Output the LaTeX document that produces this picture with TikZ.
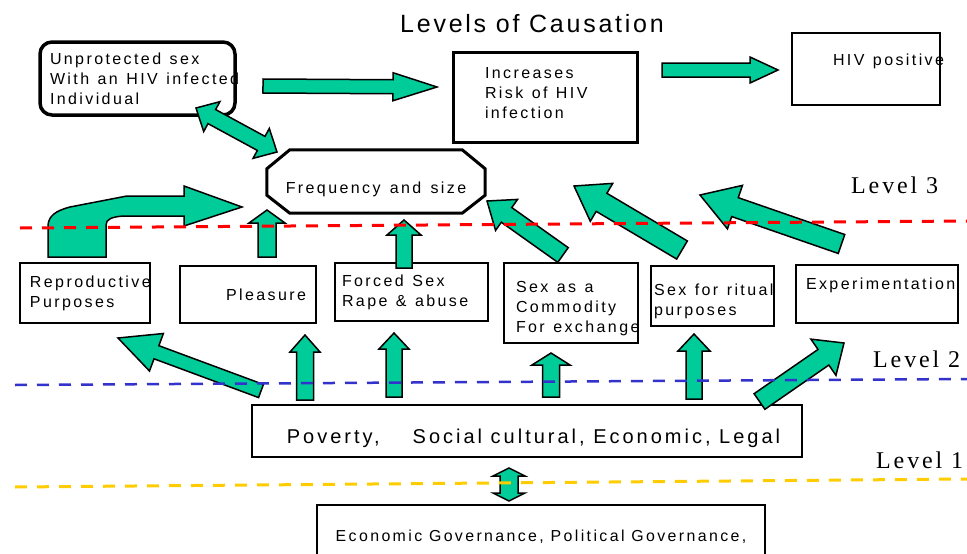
\documentclass[tikz,border=0pt]{standalone}
\usepackage{fontspec}
\setmainfont{Liberation Sans}[LetterSpace=15, WordSpace=1.35]
\newfontfamily\basefont{Liberation Sans}[LetterSpace=15]
\newfontfamily\levelfont{Liberation Serif}[LetterSpace=12]
\usetikzlibrary{calc}

\definecolor{causegreen}{HTML}{00CC99}
\definecolor{level3red}{HTML}{FF0000}
\definecolor{level2blue}{HTML}{3333CC}
\definecolor{level1gold}{HTML}{FFCC00}

% block arrow: tail, tip, half shaft, half head, head length
\newcommand{\blockarrow}[5]{%
  \coordinate (hb) at ($(#2)!#5pt!(#1)$);
  \draw[arrowbody] ($(#1)!#3pt!90:(#2)$) -- ($(hb)!#3pt!-90:(#1)$)
    -- ($(hb)!#4pt!-90:(#1)$) -- (#2) -- ($(hb)!#4pt!90:(#1)$)
    -- ($(hb)!#3pt!90:(#1)$) -- ($(#1)!#3pt!-90:(#2)$) -- cycle;}
% same with a head at both ends
\newcommand{\blockdarrow}[5]{%
  \coordinate (hb1) at ($(#1)!#5pt!(#2)$);
  \coordinate (hb2) at ($(#2)!#5pt!(#1)$);
  \draw[arrowbody] (#1) -- ($(hb1)!#4pt!90:(#2)$) -- ($(hb1)!#3pt!90:(#2)$)
    -- ($(hb2)!#3pt!-90:(#1)$) -- ($(hb2)!#4pt!-90:(#1)$) -- (#2)
    -- ($(hb2)!#4pt!90:(#1)$) -- ($(hb2)!#3pt!90:(#1)$)
    -- ($(hb1)!#3pt!-90:(#2)$) -- ($(hb1)!#4pt!-90:(#2)$) -- cycle;}

\begin{document}
\begin{tikzpicture}[x=1pt, y=-1pt,
  box/.style={draw, line width=2pt, inner ysep=0pt, font=\fontsize{16}{20}\selectfont},
  textbox/.style={box, align=left, execute at begin node={\spaceskip=0.53em\relax}},
  arrowbody/.style={fill=causegreen, draw=black, line width=1.5pt, line join=miter},
  levelline/.style={line width=3pt, dash pattern=on 12pt off 10pt},
  levellabel/.style={anchor=base west, inner sep=0pt, font=\levelfont\fontsize{24}{24}\selectfont}]
\useasboundingbox (0,0) rectangle (967,554);

\node[anchor=base, font=\basefont\fontsize{25}{25}\selectfont\addfontfeature{LetterSpace=11}] (title) at (532,32) {Levels of Causation};

\node[textbox, line width=3.5pt, rounded corners=12pt, minimum width=195pt, minimum height=73pt,
  inner xsep=10pt, text width=175pt] (unprot) at (137.5,78.5) {Unprotected sex\\\mbox{With an HIV infected}\\Individual};
\node[textbox, line width=3pt, minimum width=184pt, minimum height=90pt,
  inner xsep=32pt, text width=120pt] (incr) at (545,97) {Increases\\Risk of HIV\\infection\rule[-8pt]{0pt}{8pt}};
\node[textbox, minimum width=148pt, minimum height=72pt, inner xsep=41pt, text width=66pt,
  text height=10pt, text depth=17pt] (hivpos) at (866,69) {\mbox{HIV positive}};

\node[minimum width=218pt, minimum height=63pt, text height=35pt, text depth=12pt,
  font=\fontsize{16}{20}\selectfont] (freq) at (376,181.5) {Frequency and size};
\draw[line width=3pt] ([xshift=23pt]freq.north west) -- ([xshift=-23pt]freq.north east)
  -- ([yshift=-19pt]freq.north east) -- ([yshift=18pt]freq.south east)
  -- ([xshift=-23pt]freq.south east) -- ([xshift=23pt]freq.south west)
  -- ([yshift=18pt]freq.south west) -- ([yshift=-19pt]freq.north west) -- cycle;

\node[textbox, minimum width=130pt, minimum height=60pt, inner xsep=10pt, text width=110pt] (repro) at (85,293) {Reproductive\\Purposes};
\node[textbox, align=right, minimum width=136pt, minimum height=57pt, inner xsep=10pt, text width=116pt] (pleas) at (248,294.5) {Pleasure};
\node[textbox, minimum width=153pt, minimum height=58pt, inner xsep=7pt, text width=139pt] (forced) at (411.5,292) {Forced Sex\\Rape \& abuse};
\node[textbox, minimum width=134pt, minimum height=80pt, inner xsep=12pt, text width=110pt] (commod) at (571,303) {\rule{0pt}{22pt}Sex as a\\Commodity\\\mbox{For exchange}};
\node[textbox, minimum width=123pt, minimum height=60pt, inner xsep=3pt, text width=117pt] (ritual) at (712.5,296) {\rule{0pt}{23pt}\mbox{Sex for ritual}\\purposes};
\node[textbox, minimum width=162pt, minimum height=58pt, inner xsep=10pt, text width=142pt,
  text height=10pt, text depth=20pt] (exper) at (877,294) {Experimentation};

\node[box, inner xsep=0pt, minimum width=550pt, minimum height=52pt,
  font=\basefont\fontsize{20}{24}\selectfont,
  text height=28pt, text depth=4pt] (pov) at (527,431) {\hspace*{13pt}Poverty,\hspace{33pt}Social cultural, Economic, Legal};
\node[box, minimum width=448pt, minimum height=85pt, font=\basefont\fontsize{15.9}{20}\selectfont,
  text height=10pt, text depth=23pt] (econ) at (541,547.5) {Economic Governance, Political Governance,};

\coordinate (a1s) at (263,86);    \coordinate (a1t) at (437,87);
\coordinate (a2s) at (662,70);    \coordinate (a2t) at (778,70);
\coordinate (u1s) at (267,257);   \coordinate (u1t) at (267,210);
\coordinate (u2s) at (404,268);   \coordinate (u2t) at (404,220);
\coordinate (g1s) at (563,255);   \coordinate (g1t) at (487,201);
\coordinate (g2s) at (682,250);   \coordinate (g2t) at (574,186);
\coordinate (g3s) at (841.5,244); \coordinate (g3t) at (700,195);
\coordinate (p1s) at (261,391);   \coordinate (p1t) at (118,338);
\coordinate (p2s) at (305,400);   \coordinate (p2t) at (305,335);
\coordinate (p3s) at (394,397);   \coordinate (p3t) at (394,333);
\coordinate (p4s) at (551,397);   \coordinate (p4t) at (551,353);
\coordinate (p5s) at (694,399);   \coordinate (p5t) at (694,334);
\coordinate (p6s) at (759.5,401.5); \coordinate (p6t) at (844,343);
\coordinate (d1a) at (196,108);   \coordinate (d1b) at (277,152);
\coordinate (d2a) at (509,468);   \coordinate (d2b) at (509,501);

\foreach \ta/\tb/\ws/\wh/\lh in {a1s/a1t/7/14/44, a2s/a2t/7/13/28, u1s/u1t/9/18/13,
  u2s/u2t/8/17/15, g1s/g1t/9/19/24, g2s/g2t/10.5/22/32, g3s/g3t/10/23/37,
  p1s/p1t/7/20/41, p2s/p2t/8.5/15/17, p3s/p3t/8/15/16, p4s/p4t/8.5/19/12,
  p5s/p5t/8/16/17, p6s/p6t/9.5/22/25}
  \blockarrow{\ta}{\tb}{\ws}{\wh}{\lh};
\blockdarrow{d1a}{d1b}{8}{17}{18}
\blockdarrow{d2a}{d2b}{9}{16}{8}

\draw[arrowbody] (48,257) -- (48,225) .. controls (49,216) and (55,211) .. (70,207) -- (127,196)
  -- (184,196) -- (184,186) -- (242,207) -- (184,226) -- (184,216) -- (123,216)
  .. controls (112,217) and (106,219) .. (106,225) -- (106,257) -- cycle;

\draw[levelline, level3red] (20,228) -- (967,221);
\draw[levelline, level2blue, line width=2.5pt] (15,385) -- (967,379);
\draw[levelline, level1gold] (15,487) -- (967,479);

\node[levellabel] (lv3) at (851,193) {Level 3};
\node[levellabel] (lv2) at (873,367) {Level 2};
\node[levellabel] (lv1) at (876,468) {Level 1};
\end{tikzpicture}
\end{document}
